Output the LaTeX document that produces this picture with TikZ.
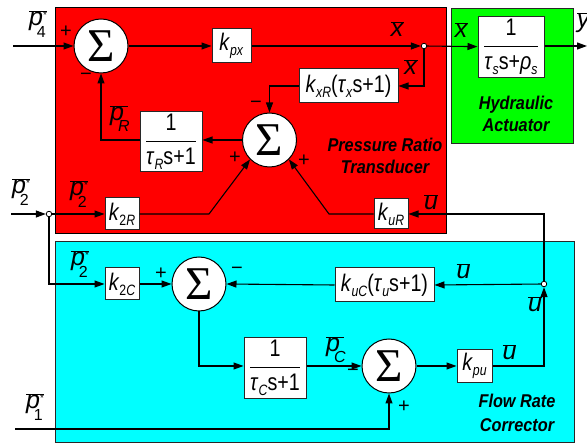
\documentclass[tikz,border=0pt]{standalone}
\usepackage{fontspec}
\setmainfont{Liberation Sans}
\newfontfamily\cnd[FakeStretch=0.82]{Liberation Sans}
\newfontfamily\tcnd[FakeStretch=0.88]{Liberation Sans}
\newfontfamily\sigfont{Liberation Serif}
\usetikzlibrary{arrows.meta}
\definecolor{redbg}{RGB}{255,0,0}
\definecolor{greenbg}{RGB}{0,255,0}
\definecolor{cyanbg}{RGB}{0,255,255}
\definecolor{frame}{RGB}{40,40,40}
\newcommand{\sbs}[1]{\raisebox{-5pt}{\fontsize{15}{15}\selectfont #1}}
\newcommand{\ovl}[1]{$\overline{\mbox{#1}}$}
\newcommand{\fr}[2]{$\displaystyle\frac{\mbox{#1}}{\mbox{#2}}$}
\newcommand{\pst}[1]{\ovl{\textit{p}\raisebox{7pt}{\fontsize{10}{10}\selectfont *}}\hspace{-10pt}\raisebox{-12pt}{\fontsize{16}{16}\selectfont #1}}
\newcommand{\pbr}[1]{\ovl{\textit{p}\hspace{4pt}}\hspace{-10pt}\raisebox{-11pt}{\fontsize{16}{16}\selectfont\textit{#1}}}
\newcommand{\sig}{{\sigfont\fontsize{47}{47}\selectfont Σ}}
\tikzset{
  blk/.style={draw=frame, fill=white, line width=1pt, inner sep=0pt,
    font=\cnd\fontsize{24}{26}\selectfont},
  sumc/.style={circle, draw=black, fill=white, minimum size=54pt, inner sep=0pt, line width=1pt},
  lnk/.style={line width=1.1pt},
  arr/.style={lnk, -{Triangle[length=10pt,width=7pt]}},
  jn/.style={circle, draw=black, fill=white, minimum size=5.5pt, inner sep=0pt, line width=0.8pt},
  lab/.style={font=\fontsize{25}{27}\selectfont, inner sep=0pt},
  sgn/.style={font=\fontsize{20}{20}\selectfont, inner sep=0pt},
  ttl/.style={font=\tcnd\fontsize{18.5}{20}\selectfont\bfseries\itshape, inner sep=0pt, anchor=base},
}
\begin{document}
\begin{tikzpicture}[x=1pt,y=-1pt]
\useasboundingbox[fill=white] (0,0) rectangle (587,443);
% backgrounds
\draw[fill=redbg, draw=black, line width=0.8pt] (55,7) rectangle (446,233);
\draw[fill=greenbg, draw=frame, line width=0.8pt] (451,8) rectangle (573,143);
\draw[fill=cyanbg, draw=frame, line width=0.8pt] (55,241) rectangle (574,442);
% nodes
\node[sumc] (S1) at (101,46) {\sig};
\node[sumc] (S2) at (269.5,140) {\sig};
\node[sumc] (S3) at (199,284) {\sig};
\node[sumc] (S4) at (389,366) {\sig};
\node[blk, minimum width=39pt, minimum height=34pt] (kpx) at (231.5,46) {\textit{k}\sbs{\textit{px}}};
\node[blk, minimum width=66pt, minimum height=61pt] (G1) at (511,47) {\fr{1}{\textit{τ}\sbs{\textit{s}}s+\textit{ρ}\sbs{\textit{s}}}};
\node[blk, minimum width=99pt, minimum height=34pt] (kxR) at (348.5,86) {\textit{k}\sbs{\textit{xR}}(\textit{τ}\sbs{\textit{x}}s+1)};
\node[blk, minimum width=62pt, minimum height=60pt] (tR) at (171,142) {\fr{1}{\textit{τ}\sbs{\textit{R}}s+1}};
\node[blk, minimum width=34pt, minimum height=32pt] (k2R) at (122,214) {\textit{k}\sbs{2\textit{R}}};
\node[blk, minimum width=34pt, minimum height=30pt] (kuR) at (391,214) {\textit{k}\sbs{\textit{uR}}};
\node[blk, minimum width=99pt, minimum height=34pt] (kuC) at (384.5,285) {\textit{k}\sbs{\textit{uC}}(\textit{τ}\sbs{\textit{u}}s+1)};
\node[blk, minimum width=34pt, minimum height=32pt] (k2C) at (122,284) {\textit{k}\sbs{2\textit{C}}};
\node[blk, minimum width=62pt, minimum height=61pt] (tC) at (275,368) {\fr{1}{\textit{τ}\sbs{\textit{C}}s+1}};
\node[blk, minimum width=35pt, minimum height=33pt] (kpu) at (474.5,366) {\textit{k}\sbs{\textit{pu}}};
\node[jn] (J1) at (424,46) {};
\node[jn] (J2) at (49,214) {};
\node[jn] (J3) at (544,284) {};
\coordinate (in4) at (13,46);
\coordinate (out) at (587,46);
\coordinate (in2) at (11,214);
\coordinate (in1) at (15,429);
\coordinate (c2R) at (209,214);
\coordinate (cuR) at (329,214);
% connectors
\draw[arr] (in4) -- (S1);
\draw[arr] (S1) -- (kpx);
\draw[arr] (kpx) -- (J1);
\draw[arr] (J1) -- (G1);
\draw[arr] (G1.east |- J1) -- (out);
\draw[arr] (J1) |- (kxR.east);
\draw[arr] (kxR.west) -| (S2.north);
\draw[arr] (S2.west) -- (S2.west -| tR.east);
\draw[arr] (tR.west |- S2.west) -| (S1.south);
\draw[arr] (in2) -- (J2);
\draw[arr] (J2) -- (k2R);
\draw[arr] (k2R.east) -- (c2R) -- (S2.south west);
\draw[arr] (J3) |- (kuR.east);
\draw[arr] (kuR.west) -- (cuR) -- (S2.south east);
\draw[arr] (J2) |- (k2C.west);
\draw[arr] (k2C.east) -- (S3.west);
\draw[arr] (J3) -- (kuC.east);
\draw[arr] (kuC.west) -- (S3.east);
\draw[arr] (S3.south) |- (tC.west |- S4.west);
\draw[arr] (tC.east |- S4.west) -- (S4.west);
\draw[arr] (S4.east) -- (kpu.west);
\draw[arr] (kpu.east) -| (J3.south);
\draw[arr] (in1) -| (S4.south);
% signal labels
\node[lab, anchor=base west] (lp4) at (29,26) {\pst{4}};
\node[lab, anchor=base west] (lp2a) at (12,194) {\pst{2}};
\node[lab, anchor=base west] (lp2b) at (70,196) {\pst{2}};
\node[lab, anchor=base west] (lp2c) at (71,266) {\pst{2}};
\node[lab, anchor=base west] (lp1) at (26,409) {\pst{1}};
\node[lab, anchor=base west] (lpR) at (110,121) {\pbr{R}};
\node[lab, anchor=base west] (lpC) at (326,352) {\pbr{C}};
\node[lab, anchor=base] (lx1) at (397.5,37) {\ovl{\textit{x}}};
\node[lab, anchor=base] (lx2) at (411,75) {\ovl{\textit{x}}};
\node[lab, anchor=base] (lx3) at (461.5,38) {\ovl{\textit{x}}};
\node[lab, anchor=base west] (ly) at (577,28) {\ovl{\textit{y}}};
\node[lab, anchor=base] (lu1) at (431,210) {\ovl{\textit{u}}};
\node[lab, anchor=base] (lu2) at (463.5,279) {\ovl{\textit{u}}};
\node[lab, anchor=base] (lu3) at (535,312) {\ovl{\textit{u}}};
\node[lab, anchor=base] (lu4) at (509.5,360) {\ovl{\textit{u}}};
% signs
\node[sgn] (s1p) at (66,32) {+};
\node[sgn] (s1m) at (86,77) {−};
\node[sgn] (s2m) at (256,105) {−};
\node[sgn] (s2pa) at (235,158) {+};
\node[sgn] (s2pb) at (304,161) {+};
\node[sgn] (s3p) at (161,274) {+};
\node[sgn] (s3m) at (237,271) {−};
\node[sgn] (s4m) at (353,373) {−};
\node[sgn] (s4p) at (404,407) {+};
% titles
\node[ttl] (t1a) at (385,152) {Pressure Ratio};
\node[ttl] (t1b) at (385,174) {Transducer};
\node[ttl] (t2a) at (516,110) {Hydraulic};
\node[ttl] (t2b) at (516,132) {Actuator};
\node[ttl] (t3a) at (517,408) {Flow Rate};
\node[ttl] (t3b) at (517,432) {Corrector};
\end{tikzpicture}
\end{document}
